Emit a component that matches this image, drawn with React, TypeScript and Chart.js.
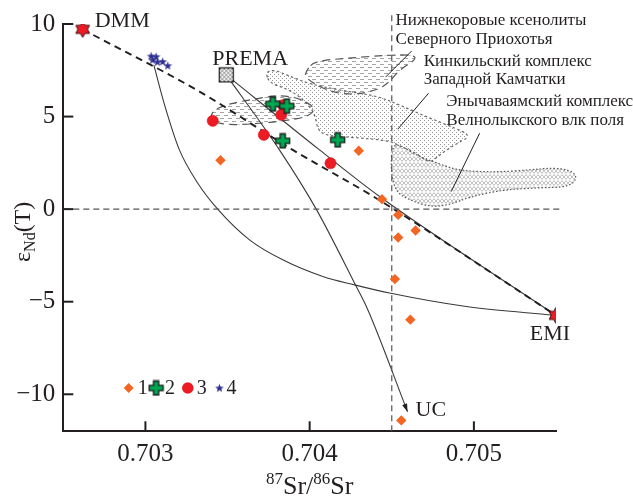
import React, { useEffect, useRef } from 'react';
import { Chart, registerables } from 'chart.js';
Chart.register(...registerables);

const FONT = '"Liberation Serif","Times New Roman",Times,serif';
const INK = '#231f20';

// axes
const X_MIN = 0.7025;
const X_MAX = 0.7055;
const Y_MIN = -12;
const Y_MAX = 10;
const xTickValues = [0.703, 0.704, 0.705];
const yTickValues = [-10, -5, 0, 5, 10];

// series 1 — orange diamonds
const s1Sr = [0.703457, 0.704299, 0.70444, 0.704539, 0.704645, 0.704539, 0.704519, 0.704613, 0.704558];
const s1Nd = [2.64, 3.15, 0.54, -0.31, -1.15, -1.53, -3.78, -5.97, -11.41];
// series 2 — green crosses
const s2Sr = [0.703776, 0.703861, 0.703836, 0.704171];
const s2Nd = [5.68, 5.57, 3.69, 3.74];
// series 3 — red circles
const s3Sr = [0.70341, 0.703721, 0.703838, 0.703827, 0.704127];
const s3Nd = [4.77, 4.01, 5.62, 5.09, 2.48];
// series 4 — blue stars
const s4Sr = [0.703035, 0.703065, 0.703044, 0.703073, 0.703105, 0.703136];
const s4Nd = [8.27, 8.24, 8.06, 7.95, 7.97, 7.75];

// end members
const endNames = ['DMM', 'PREMA', 'EMI', 'UC'];
const endSr = [0.702618, 0.703492, 0.7055, 0.704596];
const endNd = [9.71, 7.25, -5.74, -10.94];

// mixing lines
const dmmEmiSr = [0.702618, 0.703329, 0.703897, 0.704405, 0.7055];
const dmmEmiNd = [9.71, 6.35, 3.2, 0.59, -5.74];
const premaEmiSr = [0.703492, 0.70406, 0.704426, 0.7055];
const premaEmiNd = [7.25, 3.2, 0.68, -5.74];
const premaUcSr = [0.703492, 0.703816, 0.70404, 0.704273, 0.704354, 0.704596];
const premaUcNd = [7.25, 3.2, 0, -3.99, -5.43, -10.94];
const starsEmiSr = [0.703051, 0.703122, 0.703207, 0.703319, 0.70344, 0.703634, 0.703836, 0.70408, 0.704273, 0.704486, 0.704954, 0.7055];
const starsEmiNd = [7.79, 5.47, 3.2, 1.4, 0, -1.66, -2.74, -3.64, -4.09, -4.53, -5.26, -5.74];

// reference lines
const vLineSr = [0.7045, 0.7045];
const vLineNd = [-12, 10.5];
const hLineSr = [0.7025, 0.70554];
const hLineNd = [0, 0];

// fields
const regA_Sr = [0.70403, 0.704243, 0.704486, 0.704627, 0.704651, 0.704547, 0.704486, 0.704413, 0.704273, 0.704121, 0.703969, 0.703981];
const regA_Nd = [8.0, 8.16, 8.33, 8.33, 8.11, 7.52, 6.87, 6.44, 6.17, 6.33, 7.08, 7.51];
const regC_Sr = [0.703396, 0.70342, 0.703512, 0.703664, 0.703816, 0.703938, 0.704042, 0.703987, 0.703847, 0.703664, 0.7035, 0.703414];
const regC_Nd = [5.0, 5.38, 5.7, 5.95, 6.16, 5.99, 5.45, 4.98, 4.77, 4.6, 4.55, 4.71];
const regB_Sr = [0.703731, 0.703786, 0.703877, 0.703999, 0.704182, 0.704413, 0.704547, 0.70473, 0.704882, 0.704986, 0.704882, 0.704791, 0.70473, 0.704639, 0.704547, 0.704486, 0.704304, 0.704103, 0.704048, 0.70403, 0.703938, 0.703847, 0.703755];
const regB_Nd = [7.41, 7.52, 7.19, 6.76, 6.43, 6.11, 5.63, 4.92, 4.39, 3.96, 3.48, 2.93, 2.45, 3.09, 3.42, 3.69, 3.85, 3.96, 4.28, 5.25, 6.11, 6.55, 6.82];
const regD_Sr = [0.704505, 0.704578, 0.704669, 0.704773, 0.704895, 0.705035, 0.705175, 0.705339, 0.705479, 0.705583, 0.705632, 0.705583, 0.705382, 0.705175, 0.704974, 0.704852, 0.70473, 0.704608, 0.704523, 0.704493];
const regD_Nd = [3.58, 3.31, 2.83, 2.5, 2.12, 2.02, 2.02, 2.12, 2.23, 2.12, 1.74, 1.2, 1.15, 1.04, 0.66, 0.23, 0.12, 0.5, 0.94, 2.12];

// field labels
const fieldLabels = [
  'Нижнекоровые ксенолиты',
  'Северного Приохотья',
  'Кинкильский комплекс',
  'Западной Камчатки',
  'Энычаваямский комплекс',
  'Велнолыкского влк поля',
];
const fieldLabelSr = [0.704523, 0.704523, 0.704694, 0.704694, 0.704832, 0.704832];
const fieldLabelNd = [10.17, 9.17, 7.97, 6.98, 5.81, 4.78];
const leaderSrFrom = [0.704621, 0.704724, 0.705035];
const leaderNdFrom = [8.54, 6.26, 4.1];
const leaderSrTo = [0.704462, 0.704537, 0.704862];
const leaderNdTo = [7.13, 4.32, 0.95];

// legend
const legendLabels = ['1', '2', '3', '4'];
const legendSr = [0.702898, 0.703065, 0.703258, 0.703451];
const legendNd = -9.66;

const pts = (xs: number[], ys: number[]) => xs.map((v, i) => ({ x: v, y: ys[i] }));

export default function App() {
  const ref = useRef<HTMLCanvasElement>(null);

  useEffect(() => {
    const canvas = ref.current;
    if (!canvas) return;

    const mk = (w: number, h: number, draw: (g: CanvasRenderingContext2D) => void) => {
      const c = document.createElement('canvas');
      c.width = w;
      c.height = h;
      draw(c.getContext('2d') as CanvasRenderingContext2D);
      return c;
    };
    const starPath = (g: CanvasRenderingContext2D, cx: number, cy: number, n: number, ro: number, ri: number) => {
      g.beginPath();
      for (let i = 0; i < 2 * n; i++) {
        const r = i % 2 ? ri : ro;
        const a = -Math.PI / 2 + (i * Math.PI) / n;
        const px = cx + r * Math.cos(a);
        const py = cy + r * Math.sin(a);
        if (i) g.lineTo(px, py);
        else g.moveTo(px, py);
      }
      g.closePath();
    };

    const plusImg = mk(17, 17, (g) => {
      const c = 8.5, L = 7, W = 2.6;
      g.beginPath();
      g.moveTo(c - W, c - L); g.lineTo(c + W, c - L); g.lineTo(c + W, c - W); g.lineTo(c + L, c - W);
      g.lineTo(c + L, c + W); g.lineTo(c + W, c + W); g.lineTo(c + W, c + L); g.lineTo(c - W, c + L);
      g.lineTo(c - W, c + W); g.lineTo(c - L, c + W); g.lineTo(c - L, c - W); g.lineTo(c - W, c - W);
      g.closePath();
      g.fillStyle = '#00a651';
      g.fill();
      g.lineWidth = 1.3;
      g.strokeStyle = '#1b1b1b';
      g.stroke();
    });
    const hexImg = mk(20, 20, (g) => {
      starPath(g, 10, 10, 6, 8, 4.7);
      g.fillStyle = '#ed1c24';
      g.fill();
      g.lineWidth = 1;
      g.strokeStyle = '#3a1010';
      g.stroke();
    });
    const blueStarImg = mk(11, 11, (g) => {
      starPath(g, 5.5, 5.8, 5, 4.6, 1.9);
      g.fillStyle = '#2e3192';
      g.fill();
    });
    const premaImg = mk(17, 17, (g) => {
      g.fillStyle = '#fff';
      g.fillRect(1, 1, 15, 15);
      g.save();
      g.beginPath();
      g.rect(1, 1, 15, 15);
      g.clip();
      g.strokeStyle = '#333';
      g.lineWidth = 0.6;
      for (let k = -16; k < 32; k += 4) {
        g.beginPath(); g.moveTo(k, 0); g.lineTo(k + 17, 17); g.stroke();
        g.beginPath(); g.moveTo(k, 17); g.lineTo(k + 17, 0); g.stroke();
      }
      g.restore();
      g.strokeStyle = '#111';
      g.lineWidth = 1.2;
      g.strokeRect(1.5, 1.5, 14, 14);
    });

    const overlay = {
      id: 'overlay',
      beforeDatasetsDraw(chart: any) {
        const { ctx, scales } = chart;
        const X = (v: number) => scales.x.getPixelForValue(v);
        const Y = (v: number) => scales.y.getPixelForValue(v);
        const pat = (w: number, h: number, draw: (g: CanvasRenderingContext2D) => void) =>
          ctx.createPattern(mk(w, h, draw), 'repeat');
        const dashPat = pat(8, 6, (g) => {
          g.fillStyle = '#a4a4a4';
          g.fillRect(0, 1, 4, 1);
          g.fillRect(4, 4, 4, 1);
        });
        const dotPat = pat(4, 4, (g) => {
          g.fillStyle = '#959595';
          g.fillRect(0, 0, 1, 1);
          g.fillRect(2, 2, 1, 1);
        });
        const wavePat = pat(8, 6, (g) => {
          g.strokeStyle = '#a0a0a0';
          g.lineWidth = 0.8;
          for (const s of [1, -1]) {
            g.beginPath();
            for (let i = 0; i <= 16; i++) {
              const xx = i / 2;
              const yy = 3 + s * 2 * Math.sin((xx / 8) * 2 * Math.PI);
              if (i) g.lineTo(xx, yy);
              else g.moveTo(xx, yy);
            }
            g.stroke();
          }
        });
        const path = (xs: number[], ys: number[]) => {
          const P = xs.map((v, i) => [X(v), Y(ys[i])]);
          const n = P.length;
          const mid = (a: number[], b: number[]) => [(a[0] + b[0]) / 2, (a[1] + b[1]) / 2];
          ctx.beginPath();
          const m0 = mid(P[n - 1], P[0]);
          ctx.moveTo(m0[0], m0[1]);
          for (let i = 0; i < n; i++) {
            const m = mid(P[i], P[(i + 1) % n]);
            ctx.quadraticCurveTo(P[i][0], P[i][1], m[0], m[1]);
          }
          ctx.closePath();
        };
        const regions = [
          { xs: regD_Sr, ys: regD_Nd, fill: wavePat, dash: [1.5, 2], color: '#555' },
          { xs: regB_Sr, ys: regB_Nd, fill: dotPat, dash: [2.5, 2.5], color: '#666' },
          { xs: regA_Sr, ys: regA_Nd, fill: dashPat, dash: [8, 5], color: '#555' },
          { xs: regC_Sr, ys: regC_Nd, fill: dashPat, dash: [8, 5], color: '#555' },
        ];
        ctx.save();
        for (const r of regions) {
          path(r.xs, r.ys);
          ctx.fillStyle = r.fill;
          ctx.fill();
        }
        for (const r of regions) {
          path(r.xs, r.ys);
          ctx.setLineDash(r.dash);
          ctx.strokeStyle = r.color;
          ctx.lineWidth = 1.2;
          ctx.stroke();
        }
        ctx.restore();
      },
      afterDatasetsDraw(chart: any) {
        const { ctx, scales, chartArea } = chart;
        const X = (v: number) => scales.x.getPixelForValue(v);
        const Y = (v: number) => scales.y.getPixelForValue(v);
        ctx.save();
        ctx.setLineDash([]);
        // inward ticks
        ctx.strokeStyle = INK;
        ctx.lineWidth = 2;
        for (const v of yTickValues) {
          const py = Y(v);
          ctx.beginPath(); ctx.moveTo(chartArea.left, py); ctx.lineTo(chartArea.left + 10, py); ctx.stroke();
        }
        for (const v of xTickValues) {
          const px = X(v);
          ctx.beginPath(); ctx.moveTo(px, chartArea.bottom); ctx.lineTo(px, chartArea.bottom - 10); ctx.stroke();
        }
        // leader lines
        ctx.lineWidth = 1;
        for (let i = 0; i < leaderSrFrom.length; i++) {
          ctx.beginPath();
          ctx.moveTo(X(leaderSrFrom[i]), Y(leaderNdFrom[i]));
          ctx.lineTo(X(leaderSrTo[i]), Y(leaderNdTo[i]));
          ctx.stroke();
        }
        // arrow head at UC
        const n = premaUcSr.length;
        const ax = X(premaUcSr[n - 1]), ay = Y(premaUcNd[n - 1]);
        const bx = X(premaUcSr[n - 2]), by = Y(premaUcNd[n - 2]);
        const ang = Math.atan2(ay - by, ax - bx);
        ctx.fillStyle = INK;
        ctx.beginPath();
        ctx.moveTo(ax, ay);
        ctx.lineTo(ax - 8 * Math.cos(ang) + 2.6 * Math.sin(ang), ay - 8 * Math.sin(ang) - 2.6 * Math.cos(ang));
        ctx.lineTo(ax - 8 * Math.cos(ang) - 2.6 * Math.sin(ang), ay - 8 * Math.sin(ang) + 2.6 * Math.cos(ang));
        ctx.closePath();
        ctx.fill();
        // field labels
        ctx.fillStyle = INK;
        ctx.font = `17px ${FONT}`;
        ctx.textBaseline = 'middle';
        ctx.textAlign = 'left';
        fieldLabels.forEach((t, i) => ctx.fillText(t, X(fieldLabelSr[i]), Y(fieldLabelNd[i])));
        // end-member labels
        ctx.font = `22px ${FONT}`;
        const offs = [
          { dx: 12, dy: -8, align: 'left' },
          { dx: -14, dy: -16, align: 'left' },
          { dx: -6, dy: 19, align: 'center' },
          { dx: 8, dy: -1, align: 'left' },
        ];
        endNames.forEach((t, i) => {
          ctx.textAlign = offs[i].align;
          ctx.fillText(t, X(endSr[i]) + offs[i].dx, Y(endNd[i]) + offs[i].dy);
        });
        // legend
        const ly = Y(legendNd);
        const lx = legendSr.map(X);
        ctx.fillStyle = '#f26522';
        ctx.beginPath();
        ctx.moveTo(lx[0] - 5, ly); ctx.lineTo(lx[0], ly - 5); ctx.lineTo(lx[0] + 5, ly); ctx.lineTo(lx[0], ly + 5);
        ctx.closePath();
        ctx.fill();
        ctx.drawImage(plusImg, lx[1] - 8.5, ly - 8.5);
        ctx.fillStyle = '#ed1c24';
        ctx.beginPath(); ctx.arc(lx[2], ly, 5.8, 0, Math.PI * 2); ctx.fill();
        ctx.drawImage(blueStarImg, lx[3] - 5.5, ly - 5.5);
        ctx.fillStyle = INK;
        ctx.font = `20px ${FONT}`;
        ctx.textAlign = 'left';
        const ldx = [9, 9, 9, 7];
        legendLabels.forEach((t, i) => ctx.fillText(t, lx[i] + ldx[i], ly + 1));
        // axis titles
        ctx.textBaseline = 'alphabetic';
        const cx = (chartArea.left + chartArea.right) / 2;
        const parts: [string, number, number][] = [['87', 17, -10], ['Sr/', 26, 0], ['86', 17, -10], ['Sr', 26, 0]];
        let total = 0;
        for (const p of parts) { ctx.font = `${p[1]}px ${FONT}`; total += ctx.measureText(p[0]).width; }
        let xx = cx - total / 2;
        for (const p of parts) {
          ctx.font = `${p[1]}px ${FONT}`;
          ctx.fillText(p[0], xx, 494 + p[2]);
          xx += ctx.measureText(p[0]).width;
        }
        ctx.save();
        ctx.translate(30, 262);
        ctx.rotate(-Math.PI / 2);
        const yparts: [string, number, number][] = [['ε', 24, 0], ['Nd', 16, 5], ['(T)', 24, 0]];
        let yy = 0;
        for (const p of yparts) {
          ctx.font = `${p[1]}px ${FONT}`;
          ctx.fillText(p[0], yy, p[2]);
          yy += ctx.measureText(p[0]).width;
        }
        ctx.restore();
        ctx.restore();
      },
    };

    const lineDs = (xs: number[], ys: number[], extra: any) => ({
      data: pts(xs, ys),
      showLine: true,
      pointRadius: 0,
      borderColor: '#3a3a3a',
      borderWidth: 1.1,
      fill: false,
      order: 10,
      ...extra,
    });

    const chart = new Chart(canvas, {
      type: 'scatter',
      data: {
        datasets: [
          lineDs(hLineSr, hLineNd, { borderColor: '#555', borderWidth: 1.2, borderDash: [6, 4], clip: false }),
          lineDs(vLineSr, vLineNd, { borderColor: '#555', borderWidth: 1.2, borderDash: [6, 4], clip: false }),
          lineDs(dmmEmiSr, dmmEmiNd, { borderColor: INK, borderWidth: 1.9, borderDash: [7, 5], cubicInterpolationMode: 'monotone' }),
          lineDs(premaEmiSr, premaEmiNd, { cubicInterpolationMode: 'monotone' }),
          lineDs(premaUcSr, premaUcNd, { cubicInterpolationMode: 'monotone' }),
          lineDs(starsEmiSr, starsEmiNd, { cubicInterpolationMode: 'monotone' }),
          {
            data: pts(s1Sr, s1Nd),
            pointStyle: 'rectRot',
            pointRadius: 5.2,
            backgroundColor: '#f26522',
            borderColor: '#f26522',
            borderWidth: 0,
            order: 3,
          },
          {
            data: pts(s3Sr, s3Nd),
            pointStyle: 'circle',
            pointRadius: 5.6,
            backgroundColor: '#ed1c24',
            borderColor: '#d0101a',
            borderWidth: 0.5,
            order: 2,
          },
          {
            data: pts(s2Sr, s2Nd),
            pointStyle: plusImg,
            pointRadius: 8,
            order: 1,
          },
          {
            data: pts(s4Sr, s4Nd),
            pointStyle: blueStarImg,
            pointRadius: 5,
            order: 1,
          },
          {
            data: [{ x: endSr[0], y: endNd[0] }, { x: endSr[2], y: endNd[2] }],
            pointStyle: hexImg,
            pointRadius: 9,
            order: 0,
          },
          {
            data: [{ x: endSr[1], y: endNd[1] }],
            pointStyle: premaImg,
            pointRadius: 8,
            order: 0,
          },
        ],
      },
      options: {
        animation: false,
        responsive: false,
        devicePixelRatio: 1,
        events: [],
        layout: { padding: { top: 24, right: 77, left: 0, bottom: 0 } },
        plugins: { legend: { display: false }, tooltip: { enabled: false } },
        scales: {
          x: {
            type: 'linear',
            min: X_MIN,
            max: X_MAX,
            grid: { display: false, drawTicks: false },
            border: { display: true, color: INK, width: 2 },
            ticks: {
              autoSkip: false,
              maxRotation: 0,
              padding: 8,
              color: INK,
              font: { family: FONT, size: 25 },
              callback: (v: any) => Number(v).toFixed(3),
            },
            afterBuildTicks: (s: any) => {
              s.ticks = xTickValues.map((v) => ({ value: v }));
            },
            afterFit: (s: any) => {
              s.height = 67.7;
            },
          },
          y: {
            type: 'linear',
            min: Y_MIN,
            max: Y_MAX,
            grid: { display: false, drawTicks: false },
            border: { display: true, color: INK, width: 2 },
            ticks: {
              autoSkip: false,
              padding: 8,
              color: INK,
              font: { family: FONT, size: 25 },
              callback: (v: any) => (Number(v) < 0 ? '\u2212' + Math.abs(Number(v)) : String(v)),
            },
            afterBuildTicks: (s: any) => {
              s.ticks = yTickValues.map((v) => ({ value: v }));
            },
            afterFit: (s: any) => {
              s.width = 63.3;
            },
          },
        },
      } as any,
      plugins: [overlay as any],
    });

    return () => chart.destroy();
  }, []);

  return (
    <div style={{ position: 'absolute', left: 0, top: 0, width: 633, height: 499, background: '#fff' }}>
      <canvas ref={ref} width={633} height={499} style={{ display: 'block' }} />
    </div>
  );
}
